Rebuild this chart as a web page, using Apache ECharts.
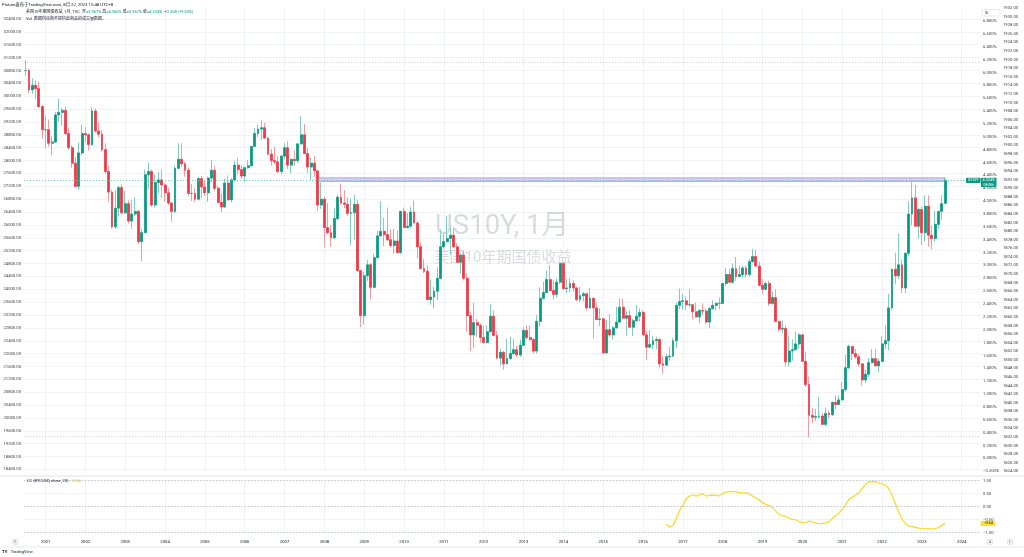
<!DOCTYPE html>
<html><head><meta charset="utf-8">
<script src="https://cdn.jsdelivr.net/npm/echarts/dist/echarts.min.js"></script>
<style>html,body{margin:0;padding:0;background:#fff;}#c{width:1024px;height:557px;}</style>
</head><body><div id="c"></div>
<script>
// ---- categories: months 2000-07 .. 2024-06 ----
const firstMonth = [2000, 7];
const lastMonth = [2024, 6];
// ---- US10Y monthly candles 2000-07 .. 2023-08 (%) ----
const opens = [
6.03,6.03,5.73,5.80,5.75,5.47,
5.11,5.11,4.90,4.92,5.34,5.38,5.41,5.05,4.83,4.59,4.23,4.75,
5.05,5.03,4.88,5.40,5.09,5.04,4.80,4.46,4.14,3.60,3.89,4.21,
3.82,3.96,3.69,3.80,3.84,3.37,3.51,4.41,4.46,3.94,4.29,4.33,
4.25,4.13,3.97,3.84,4.51,4.65,4.58,4.48,4.12,4.12,4.03,4.35,
4.22,4.13,4.36,4.48,4.20,3.98,3.91,4.28,4.02,4.33,4.56,4.49,
4.39,4.52,4.55,4.85,5.05,5.12,5.14,4.98,4.73,4.63,4.61,4.46,
4.70,4.83,4.56,4.65,4.63,4.89,5.03,4.74,4.53,4.59,4.47,3.94,
4.03,3.59,3.51,3.43,3.73,4.06,3.97,3.95,3.81,3.82,3.95,2.92,
2.22,2.84,3.01,2.66,3.12,3.46,3.53,3.48,3.40,3.31,3.38,3.20,
3.84,3.59,3.61,3.83,3.66,3.29,2.95,2.91,2.47,2.51,2.60,2.80,
3.29,3.37,3.42,3.47,3.29,3.05,3.16,2.80,2.22,1.92,2.11,2.07,
1.88,1.80,1.97,2.21,1.91,1.56,1.65,1.47,1.55,1.63,1.69,1.61,
1.76,1.99,1.88,1.85,1.67,2.13,2.49,2.58,2.78,2.61,2.55,2.74,
3.03,2.64,2.65,2.72,2.65,2.47,2.53,2.56,2.34,2.49,2.34,2.16,
2.17,1.64,2.00,1.92,2.03,2.12,2.35,2.18,2.22,2.04,2.14,2.21,
2.27,1.92,1.73,1.77,1.83,1.85,1.47,1.45,1.58,1.59,1.83,2.38,
2.44,2.45,2.39,2.39,2.28,2.20,2.30,2.29,2.12,2.33,2.38,2.41,
2.41,2.72,2.86,2.74,2.95,2.83,2.86,2.96,2.86,3.06,3.14,2.99,
2.69,2.63,2.72,2.41,2.50,2.13,2.01,2.02,1.50,1.67,1.69,1.78,
1.92,1.51,1.15,0.67,0.64,0.65,0.66,0.53,0.70,0.68,0.87,0.84,
0.91,1.07,1.41,1.74,1.63,1.58,1.47,1.22,1.31,1.49,1.55,1.44,
1.51,1.78,1.83,2.34,2.94,2.84,3.01,2.65,3.19,3.80,4.05,3.61,
3.87,3.51,3.92,3.47,3.42,3.64,3.84,3.967];
const highs = [
6.19,6.06,5.91,5.87,5.86,5.49,
5.33,5.27,5.01,5.39,5.59,5.45,5.47,5.14,4.87,4.68,4.91,5.19,
5.15,5.06,5.46,5.44,5.23,5.10,4.90,4.55,4.18,4.17,4.24,4.26,
4.16,4.01,4.02,4.06,3.87,3.57,4.49,4.60,4.49,4.41,4.45,4.49,
4.28,4.21,3.99,4.55,4.90,4.90,4.61,4.52,4.26,4.20,4.37,4.39,
4.32,4.38,4.64,4.55,4.24,4.12,4.35,4.40,4.36,4.63,4.67,4.56,
4.54,4.64,4.86,5.14,5.19,5.25,5.22,5.00,4.81,4.84,4.70,4.72,
4.90,4.93,4.66,4.79,4.90,5.32,5.20,4.83,4.68,4.70,4.49,4.29,
4.07,3.97,3.63,3.89,4.10,4.27,4.17,4.06,4.04,4.10,4.02,2.93,
2.90,3.09,3.04,3.18,3.54,4.00,3.74,3.90,3.56,3.57,3.55,3.85,
3.90,3.82,3.91,4.01,3.69,3.36,3.10,3.00,2.78,2.67,2.97,3.56,
3.49,3.77,3.60,3.59,3.35,3.19,3.23,2.88,2.28,2.42,2.17,2.10,
2.06,2.07,2.40,2.30,1.98,1.70,1.67,1.86,1.89,1.85,1.75,1.85,
2.04,2.07,2.07,1.87,2.23,2.66,2.75,2.92,3.01,2.77,2.80,3.03,
3.05,2.79,2.80,2.77,2.67,2.67,2.59,2.58,2.65,2.50,2.42,2.33,
2.19,2.15,2.25,2.06,2.36,2.49,2.48,2.29,2.30,2.17,2.38,2.33,
2.30,1.98,2.00,1.90,1.89,1.87,1.60,1.62,1.74,1.87,2.42,2.64,
2.56,2.52,2.63,2.40,2.42,2.32,2.41,2.33,2.35,2.46,2.43,2.50,
2.73,2.96,2.94,3.03,3.13,3.00,3.00,3.00,3.10,3.26,3.24,3.05,
2.79,2.75,2.76,2.60,2.63,2.14,2.14,2.06,1.91,1.85,1.97,1.95,
1.94,1.66,1.27,0.78,0.77,0.96,0.70,0.79,0.74,0.89,0.98,0.98,
1.19,1.61,1.77,1.74,1.70,1.62,1.48,1.38,1.56,1.70,1.70,1.55,
1.90,2.06,2.56,2.95,3.20,3.50,3.09,3.20,4.00,4.34,4.25,3.90,
3.91,4.09,4.09,3.62,3.85,3.85,4.09,4.366];
const lows = [
5.95,5.68,5.67,5.59,5.45,4.97,
4.82,4.85,4.71,4.90,5.24,5.17,5.03,4.80,4.52,4.21,4.18,4.71,
4.92,4.79,4.86,5.06,4.99,4.77,4.43,3.99,3.57,3.57,3.76,3.79,
3.80,3.65,3.57,3.77,3.33,3.07,3.50,4.18,3.91,3.90,4.12,4.05,
3.99,3.94,3.68,3.81,4.50,4.53,4.38,4.09,4.00,3.99,4.01,4.05,
4.08,3.99,4.29,4.16,3.96,3.83,3.89,4.01,3.98,4.30,4.41,4.34,
4.30,4.50,4.54,4.84,5.00,4.95,4.97,4.72,4.55,4.57,4.43,4.42,
4.65,4.50,4.43,4.55,4.59,4.88,4.73,4.44,4.33,4.38,3.85,3.88,
3.28,3.48,3.29,3.41,3.70,3.94,3.89,3.77,3.32,3.40,2.90,2.04,
2.08,2.76,2.47,2.65,3.12,3.46,3.30,3.38,3.28,3.18,3.19,3.18,
3.58,3.57,3.59,3.65,3.11,2.94,2.88,2.47,2.39,2.33,2.46,2.78,
3.26,3.36,3.17,3.27,3.04,2.87,2.77,1.97,1.67,1.72,1.89,1.80,
1.80,1.79,1.96,1.90,1.54,1.44,1.38,1.47,1.55,1.61,1.58,1.58,
1.76,1.84,1.82,1.63,1.63,2.05,2.47,2.57,2.61,2.47,2.50,2.71,
2.63,2.57,2.59,2.59,2.44,2.43,2.44,2.30,2.33,1.87,2.15,2.06,
1.64,1.64,1.89,1.85,2.02,2.11,2.17,1.90,2.04,1.90,2.13,2.13,
1.92,1.53,1.71,1.70,1.70,1.41,1.32,1.45,1.52,1.59,1.71,2.32,
2.31,2.31,2.35,2.16,2.19,2.10,2.23,2.09,2.03,2.31,2.30,2.32,
2.40,2.68,2.73,2.72,2.76,2.82,2.81,2.81,2.82,3.04,2.98,2.69,
2.55,2.61,2.37,2.39,2.12,1.97,1.94,1.43,1.43,1.52,1.69,1.71,
1.50,1.11,0.33,0.55,0.58,0.62,0.53,0.50,0.62,0.66,0.77,0.83,
0.90,1.04,1.39,1.53,1.55,1.43,1.13,1.17,1.26,1.48,1.43,1.34,
1.50,1.70,1.68,2.30,2.71,2.79,2.57,2.57,3.14,3.62,3.61,3.42,
3.32,3.37,3.29,3.25,3.37,3.57,3.71,3.957];
const closes = [
6.03,5.73,5.80,5.75,5.47,5.11,
5.11,4.90,4.92,5.34,5.38,5.41,5.05,4.83,4.59,4.23,4.75,5.05,
5.03,4.88,5.40,5.09,5.04,4.80,4.46,4.14,3.60,3.89,4.21,3.82,
3.96,3.69,3.80,3.84,3.37,3.51,4.41,4.46,3.94,4.29,4.33,4.25,
4.13,3.97,3.84,4.51,4.65,4.58,4.48,4.12,4.12,4.03,4.35,4.22,
4.13,4.36,4.48,4.20,3.98,3.91,4.28,4.02,4.33,4.56,4.49,4.39,
4.52,4.55,4.85,5.05,5.12,5.14,4.98,4.73,4.63,4.61,4.46,4.70,
4.83,4.56,4.65,4.63,4.89,5.03,4.74,4.53,4.59,4.47,3.94,4.03,
3.59,3.51,3.43,3.73,4.06,3.97,3.95,3.81,3.82,3.95,2.92,2.22,
2.84,3.01,2.66,3.12,3.46,3.53,3.48,3.40,3.31,3.38,3.20,3.84,
3.59,3.61,3.83,3.66,3.29,2.95,2.91,2.47,2.51,2.60,2.80,3.29,
3.37,3.42,3.47,3.29,3.05,3.16,2.80,2.22,1.92,2.11,2.07,1.88,
1.80,1.97,2.21,1.91,1.56,1.65,1.47,1.55,1.63,1.69,1.61,1.76,
1.99,1.88,1.85,1.67,2.13,2.49,2.58,2.78,2.61,2.55,2.74,3.03,
2.64,2.65,2.72,2.65,2.47,2.53,2.56,2.34,2.49,2.34,2.16,2.17,
1.64,2.00,1.92,2.03,2.12,2.35,2.18,2.22,2.04,2.14,2.21,2.27,
1.92,1.73,1.77,1.83,1.85,1.47,1.45,1.58,1.59,1.83,2.38,2.44,
2.45,2.39,2.39,2.28,2.20,2.30,2.29,2.12,2.33,2.38,2.41,2.41,
2.72,2.86,2.74,2.95,2.83,2.86,2.96,2.86,3.06,3.14,2.99,2.69,
2.63,2.72,2.41,2.50,2.13,2.01,2.02,1.50,1.67,1.69,1.78,1.92,
1.51,1.15,0.67,0.64,0.65,0.66,0.53,0.70,0.68,0.87,0.84,0.91,
1.07,1.41,1.74,1.63,1.58,1.47,1.22,1.31,1.49,1.55,1.44,1.51,
1.78,1.83,2.34,2.94,2.84,3.01,2.65,3.19,3.80,4.05,3.61,3.87,
3.51,3.92,3.47,3.42,3.64,3.84,3.96,4.324];
// ---- CC (BTCUSD, close, 20), monthly from 2016-08 ----
const ccStart = '2016-08';
const ccValues = [
-0.66,-0.79,-0.72,-0.46,-0.14,
0.05,0.31,0.41,0.46,0.41,0.46,0.50,0.41,0.44,0.44,0.44,0.42,
0.51,0.56,0.58,0.59,0.58,0.53,0.53,0.53,0.49,0.41,0.33,0.26,
0.15,0.09,0.04,-0.03,-0.17,-0.30,-0.34,-0.37,-0.45,-0.50,-0.50,-0.57,
-0.62,-0.61,-0.55,-0.57,-0.62,-0.65,-0.65,-0.62,-0.57,-0.46,-0.34,-0.25,
-0.11,0.08,0.28,0.36,0.44,0.54,0.70,0.86,0.95,0.96,0.96,0.92,
0.88,0.82,0.70,0.44,0.12,-0.20,-0.46,-0.65,-0.74,-0.77,-0.80,-0.82,
-0.84,-0.85,-0.85,-0.85,-0.84,-0.80,-0.72,-0.64];
// ---- reference lines / band ----
const bandStart = '2007-11', bandEnd = '2023-08', bandLow = 4.306, bandHigh = 4.362;
const hiLine = 6.157, loLine = 0.335, lastPrice = 4.324;
// ---- axis tick settings ----
const pctAxis = {min: -0.2, max: 7.0, step: 0.2};
const leftAxis = {min: 18400, max: 32400, step: 400};
const farAxis = {min: 1824, max: 1932, step: 2};
const ccAxis = {min: -1, max: 1, step: 0.5};
const titleText = 'Picture发布于TradingView.com, 8月 22, 2023 15:48 UTC+8';
const legendName = '美国10年期国债收益, 1月, TVC';
const legendVals = [['开','=3.967%'],['高','=4.366%'],['低','=3.957%'],['收','=4.324%']];
const legendChange = '+0.358 (+9.03%)';
const volText = '数据供应商不提供此商品的成交量数据。';
const ccTitle = 'CC (BTCUSD, close, 20)';

const months = [];
{ let y = firstMonth[0], m = firstMonth[1];
  while (y < lastMonth[0] || (y === lastMonth[0] && m <= lastMonth[1])) {
    months.push(y + '-' + String(m).padStart(2, '0')); m++; if (m > 12) { m = 1; y++; } } }
const ccData = months.map(() => null);
const ccIdx = months.indexOf(ccStart);
ccValues.forEach((v, i) => { ccData[ccIdx + i] = v; });

const UP = '#089981', DN = '#F23645', UPW = '#7fcdbf', DNW = '#f59aa1';
const FONT = 'Roboto, "Noto Sans CJK SC", sans-serif';
const FS = 4.2, TXT = '#3a3d45', GRIDC = '#f0f2f6';
const isJan = (i, v) => String(v).endsWith('-01');

const wickData = opens.map((o, i) => [o, closes[i], lows[i], highs[i]]);
const bodyData = opens.map((o, i) => [o, closes[i], Math.min(o, closes[i]), Math.max(o, closes[i])]);

const chart = echarts.init(document.getElementById('c'));
const gMain = {left: 24, right: 44, top: 8.14, height: 463.16};
const gLeft = {left: 24, right: 44, top: 19, height: 450.45};
const gCC = {left: 24, right: 44, top: 480.7, height: 52};

const baseX = (gi) => ({type: 'category', gridIndex: gi, data: months, boundaryGap: true,
  axisLine: {show: false}, axisTick: {show: false}, axisLabel: {show: false},
  splitLine: {show: false}});

const option = {
  animation: false,
  backgroundColor: '#ffffff',
  textStyle: {fontFamily: FONT},
  grid: [gMain, gLeft, gCC],
  xAxis: [
    Object.assign(baseX(0), {splitLine: {show: true, interval: isJan, alignWithLabel: true, lineStyle: {color: GRIDC, width: 1}}}),
    baseX(1),
    Object.assign(baseX(2), {
      splitLine: {show: true, interval: isJan, alignWithLabel: true, lineStyle: {color: GRIDC, width: 1}},
      axisLabel: {show: true, interval: isJan, formatter: v => v.slice(0, 4), margin: 7, fontSize: FS, color: '#131722', fontFamily: FONT}
    })
  ],
  yAxis: [
    {type: 'value', gridIndex: 0, position: 'right', min: pctAxis.min, max: pctAxis.max, interval: pctAxis.step,
      axisLine: {show: false}, axisTick: {show: false}, splitLine: {show: false},
      axisLabel: {margin: 3, fontSize: FS, color: TXT, fontFamily: FONT, showMaxLabel: false,
        formatter: v => (Math.abs(v) < 1e-9 ? '0.000' : (v < 0 ? '\u2212' + Math.abs(v).toFixed(3) : v.toFixed(3))) + '%'}},
    {type: 'value', gridIndex: 0, position: 'right', offset: 20, min: farAxis.min, max: farAxis.max, interval: farAxis.step,
      axisLine: {show: false}, axisTick: {show: false}, splitLine: {show: false},
      axisLabel: {margin: 3, fontSize: FS, color: TXT, fontFamily: FONT, formatter: v => v.toFixed(2)}},
    {type: 'value', gridIndex: 1, position: 'left', min: leftAxis.min, max: leftAxis.max, interval: leftAxis.step,
      axisLine: {show: false}, axisTick: {show: false},
      splitLine: {show: true, lineStyle: {color: GRIDC, width: 1}},
      axisLabel: {margin: 3, fontSize: FS, color: TXT, fontFamily: FONT, formatter: v => v.toFixed(2)}},
    {type: 'value', gridIndex: 2, position: 'right', min: ccAxis.min, max: ccAxis.max, interval: ccAxis.step,
      axisLine: {show: false}, axisTick: {show: false},
      splitLine: {show: true, lineStyle: {color: GRIDC, width: 1}},
      axisLabel: {margin: 3, fontSize: FS, color: TXT, fontFamily: FONT,
        formatter: v => (v < 0 ? '\u2212' + Math.abs(v).toFixed(2) : v.toFixed(2))}}
  ],
  series: [
    {type: 'candlestick', name: 'wick', xAxisIndex: 0, yAxisIndex: 0, data: wickData, barWidth: 2.4,
      itemStyle: {color: UPW, color0: DNW, borderColor: UPW, borderColor0: DNW, borderWidth: 1},
      markLine: {symbol: 'none', silent: true, label: {show: false}, animation: false,
        data: [
          {yAxis: hiLine, lineStyle: {color: '#c3c6ce', type: [1.2, 1.8], width: 0.8}},
          {yAxis: loLine, lineStyle: {color: '#c3c6ce', type: [1.2, 1.8], width: 0.8}},
          {yAxis: lastPrice, lineStyle: {color: '#5fbfae', type: [1.2, 1.8], width: 0.8}}
        ]},
      markArea: {silent: true,
        itemStyle: {color: 'rgba(171,150,230,0.45)', borderColor: '#8f7fe0', borderWidth: 0.6},
        data: [[{xAxis: bandStart, yAxis: bandLow}, {xAxis: bandEnd, yAxis: bandHigh}]]}
    },
    {type: 'candlestick', name: 'body', xAxisIndex: 0, yAxisIndex: 0, data: bodyData, barWidth: 2.4,
      itemStyle: {color: UP, color0: DN, borderColor: UP, borderColor0: DN, borderWidth: 0.5}},
    {type: 'line', name: 'cc', xAxisIndex: 2, yAxisIndex: 3, data: ccData, showSymbol: false, connectNulls: false,
      lineStyle: {color: '#f8dc2e', width: 1.3}, itemStyle: {color: '#f8dc2e'},
      markLine: {symbol: 'none', silent: true, label: {show: false},
        lineStyle: {color: '#b6b9c1', type: [1.2, 2], width: 0.8},
        data: [{yAxis: 1}, {yAxis: 0}, {yAxis: -1}]}}
  ]
};
chart.setOption(option);

const py = chart.convertToPixel({xAxisIndex: 0, yAxisIndex: 0}, [months[0], lastPrice])[1];
const cy = chart.convertToPixel({xAxisIndex: 2, yAxisIndex: 3}, [months[0], ccValues[ccValues.length - 1]])[1];
const ccLast = ccValues[ccValues.length - 1];
const ccLastTxt = (ccLast < 0 ? '\u2212' : '') + Math.abs(ccLast).toFixed(2);

const legendRich = {
  n: {fontSize: 4, fill: '#131722', fontFamily: FONT},
  k: {fontSize: 4, fill: '#131722', fontFamily: FONT},
  v: {fontSize: 4, fill: UP, fontFamily: FONT}
};
let legendStr = '{n|' + legendName + '}  ';
legendVals.forEach(p => { legendStr += '{k|' + p[0] + '}{v|' + p[1] + '} '; });
legendStr += ' {v|' + legendChange + '}';

chart.setOption({
  graphic: [
    {type: 'text', x: 502, y: 227, z: 0, style: {text: 'US10Y, 1月', fontSize: 27.5, fontFamily: FONT, fill: 'rgba(150,154,165,0.36)', align: 'center', verticalAlign: 'middle'}},
    {type: 'text', x: 503, y: 258, z: 0, style: {text: '美国10年期国债收益', fontSize: 15, fontFamily: FONT, fill: 'rgba(150,154,165,0.36)', align: 'center', verticalAlign: 'middle'}},
    {type: 'text', x: 2, y: 5, z: 10, style: {text: titleText, fontSize: 4.3, fontFamily: FONT, fill: '#131722', verticalAlign: 'middle'}},
    {type: 'text', x: 26, y: 12, z: 10, style: {text: legendStr, rich: legendRich, fontSize: 4, verticalAlign: 'middle'}},
    {type: 'text', x: 26, y: 18.7, z: 10, style: {text: '{k|Vol}  {k|' + volText + '}', rich: legendRich, fontSize: 4, verticalAlign: 'middle'}},
    {type: 'text', x: 27, y: 481, z: 10, style: {text: '{k|' + ccTitle + '}  {y|' + ccLastTxt + '}', rich: {k: legendRich.k, y: {fontSize: 4, fill: '#e6c300', fontFamily: FONT}}, fontSize: 4, verticalAlign: 'middle'}},
    {type: 'line', z: 5, shape: {x1: 0, y1: 476, x2: 1024, y2: 476}, style: {stroke: '#e0e3eb', lineWidth: 1}},
    {type: 'line', z: 5, shape: {x1: 0, y1: 547, x2: 1024, y2: 547}, style: {stroke: '#e0e3eb', lineWidth: 0.8}},
    {type: 'rect', z: 10, shape: {x: 982, y: 9.5, width: 18, height: 6.5, r: 1.5}, style: {fill: '#fff', stroke: '#d7d9df', lineWidth: 0.6}},
    {type: 'text', x: 985, y: 12.8, z: 11, style: {text: '%', fontSize: 4.2, fontFamily: FONT, fill: '#131722', verticalAlign: 'middle'}},
    {type: 'rect', z: 10, shape: {x: 966, y: py - 2.6, width: 14.5, height: 5.4, r: 0.8}, style: {fill: UP}},
    {type: 'text', x: 973.2, y: py + 0.1, z: 11, style: {text: 'US10Y', fontSize: 3.6, fontFamily: FONT, fill: '#fff', align: 'center', verticalAlign: 'middle'}},
    {type: 'rect', z: 10, shape: {x: 981, y: py - 2.6, width: 15.5, height: 9.4, r: 0.8}, style: {fill: UP}},
    {type: 'text', x: 988.7, y: py + 0.1, z: 11, style: {text: lastPrice.toFixed(3) + '%', fontSize: 3.8, fontFamily: FONT, fill: '#fff', align: 'center', verticalAlign: 'middle'}},
    {type: 'text', x: 988.7, y: py + 4.4, z: 11, style: {text: '08:08h', fontSize: 3.4, fontFamily: FONT, fill: '#fff', align: 'center', verticalAlign: 'middle'}},
    {type: 'rect', z: 10, shape: {x: 980.5, y: cy - 2.7, width: 15, height: 5.4, r: 0.8}, style: {fill: '#fbe233'}},
    {type: 'text', x: 988, y: cy + 0.1, z: 11, style: {text: ccLastTxt, fontSize: 3.8, fontFamily: FONT, fill: '#131722', align: 'center', verticalAlign: 'middle'}},
    {type: 'circle', z: 10, shape: {cx: 15, cy: 542, r: 3}, style: {fill: '#f0f3fa', stroke: '#d1d4dc', lineWidth: 0.5}},
    {type: 'text', x: 15, y: 542.2, z: 11, style: {text: 'Z', fontSize: 3.4, fontFamily: FONT, fill: '#555', align: 'center', verticalAlign: 'middle'}},
    {type: 'circle', z: 10, shape: {cx: 990, cy: 542, r: 3}, style: {fill: '#f0f3fa', stroke: '#d1d4dc', lineWidth: 0.5}},
    {type: 'text', x: 990, y: 542.2, z: 11, style: {text: 'A', fontSize: 3.4, fontFamily: FONT, fill: '#555', align: 'center', verticalAlign: 'middle'}},
    {type: 'circle', z: 10, shape: {cx: 1010, cy: 542, r: 3}, style: {fill: '#f0f3fa', stroke: '#d1d4dc', lineWidth: 0.5}},
    {type: 'text', x: 1010, y: 542.2, z: 11, style: {text: 'L', fontSize: 3.4, fontFamily: FONT, fill: '#555', align: 'center', verticalAlign: 'middle'}},
    {type: 'text', x: 2, y: 551.5, z: 10, style: {text: '{b|TV} {t|TradingView}', rich: {b: {fontSize: 4.2, fontWeight: 'bold', fill: '#131722', fontFamily: FONT}, t: {fontSize: 4, fill: '#131722', fontFamily: FONT}}, verticalAlign: 'middle'}}
  ]
});
</script>
</body></html>
